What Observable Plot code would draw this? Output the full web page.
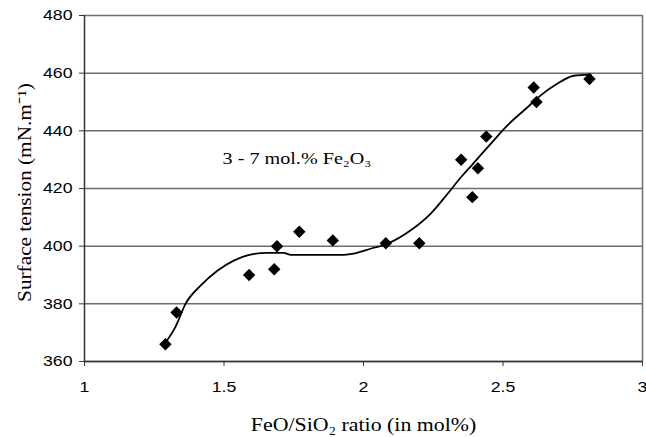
<!DOCTYPE html>
<html><head><meta charset="utf-8">
<script src="https://cdn.jsdelivr.net/npm/d3@7"></script>
<script src="https://cdn.jsdelivr.net/npm/@observablehq/plot@0.6"></script>
<style>body{margin:0;background:#fff}</style>
</head><body><div id="chart"></div>
<script>
// Measured points: FeO/SiO2 ratio vs surface tension
const ratio   = [1.29, 1.33, 1.59, 1.68, 1.69, 1.77, 1.89, 2.08, 2.20, 2.35, 2.39, 2.41, 2.44, 2.61, 2.62, 2.81];
const tension = [366,  377,  390,  392,  400,  405,  402,  401,  401,  430,  417,  427,  438,  455,  450,  458];
// Fitted curve
const fitRatio   = [1.29, 1.326, 1.362, 1.416, 1.476, 1.535, 1.595, 1.655, 1.714, 1.74, 1.834, 1.929, 1.97, 2.025, 2.085, 2.168, 2.24, 2.30, 2.35, 2.39, 2.455, 2.515, 2.587, 2.634, 2.694, 2.754, 2.814];
const fitTension = [366.5, 372, 380, 386.3, 391.5, 395, 397.1, 397.7, 397.7, 397, 397, 397, 397.5, 399.1, 400.8, 405.4, 411.2, 418, 424, 428.3, 435.4, 441.8, 448.1, 452.2, 456.3, 459.1, 459.5];
const xTicks = [1, 1.5, 2, 2.5, 3];
const yTicks = [360, 380, 400, 420, 440, 460, 480];
const annotation = "3 - 7 mol.% Fe₂O₃";
const annotationRatio = 1.495;
const annotationTension = 430.5;
const xTitle = "FeO/SiO₂ ratio (in mol%)";
const yTitle = "Surface tension (mN.m⁻¹)";

const points = ratio.map((x, i) => ({x, y: tension[i]}));
const fit = fitRatio.map((x, i) => ({x, y: fitTension[i]}));

const serif = "'Liberation Serif', 'Times New Roman', serif";
const sans = "'Liberation Sans', Arial, sans-serif";

const chart = Plot.plot({
  width: 646, height: 437,
  marginLeft: 84, marginRight: 4, marginTop: 15, marginBottom: 76,
  style: {fontFamily: sans, fontSize: "15px", color: "#000", background: "#fff"},
  x: {domain: [1, 3], label: null},
  y: {domain: [360, 480], label: null},
  marks: [
    Plot.gridY(yTicks, {stroke: "#6e6e6e", strokeOpacity: 1, strokeWidth: 1.5}),
    Plot.ruleX([3], {stroke: "#6e6e6e", strokeWidth: 1.5}),
    Plot.ruleX([1], {stroke: "#333", strokeWidth: 1.5}),
    Plot.ruleY([360], {stroke: "#333", strokeWidth: 1.5}),
    Plot.axisX(xTicks, {tickSize: 5, tickPadding: 15, stroke: "#333", fill: "#000", fontSize: 15, tickFormat: d => String(d), label: null}),
    Plot.axisY(yTicks, {tickSize: 5, tickPadding: 7, stroke: "#333", fill: "#000", fontSize: 15, label: null}),
    Plot.line(fit, {x: "x", y: "y", curve: "monotone-x", stroke: "#000", strokeWidth: 1.8}),
    Plot.dot(points, {x: "x", y: "y", symbol: "diamond2", r: 5.6, fill: "#000", stroke: "none"}),
    Plot.text([annotation], {x: () => annotationRatio, y: () => annotationTension, textAnchor: "start", fontFamily: serif, fontSize: 16.5, fill: "#000"}),
    Plot.text([xTitle], {frameAnchor: "bottom", lineAnchor: "middle", textAnchor: "middle", dy: 63, fontFamily: serif, fontSize: 19.5, fill: "#000"}),
    Plot.text([yTitle], {frameAnchor: "left", lineAnchor: "middle", textAnchor: "middle", rotate: -90, dx: -60, dy: 4, fontFamily: serif, fontSize: 19.5, fill: "#000"})
  ]
});
document.getElementById("chart").appendChild(chart);

// widen glyphs along the text direction to match the reference's wide lettering
const stretch = new Map([[xTitle, 1.12], [yTitle, 1.09], [annotation, 1.22]]);
d3.select(chart).selectAll("text").each(function() {
  const len = this.getComputedTextLength();
  const s = stretch.get(this.textContent) ?? 1.18;
  if (len > 0) {
    this.setAttribute("textLength", (len * s).toFixed(2));
    this.setAttribute("lengthAdjust", "spacingAndGlyphs");
  }
});
</script>
</body></html>
